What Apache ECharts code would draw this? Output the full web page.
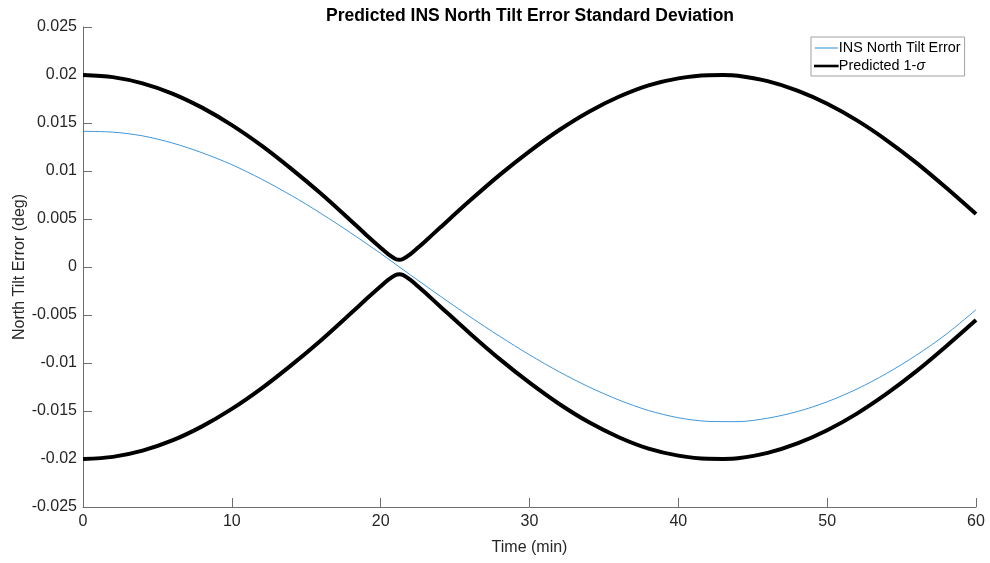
<!DOCTYPE html>
<html>
<head>
<meta charset="utf-8">
<script src="https://cdn.jsdelivr.net/npm/echarts@6/dist/echarts.min.js"></script>
<style>
html,body{margin:0;padding:0;background:#fff;}
#chart{width:990px;height:563px;}
</style>
</head>
<body>
<div id="chart"></div>
<script>
// Time (min) grid for predicted 1-sigma envelope
var sigmaTime = [0,2,4,6,8,10,12,14,16,18,19,20,20.5,21,21.25,21.5,22,22.5,23,24,26,28,30,32,34,36,38,40,42,43,44,46,48,50,52,54,56,58,60];
// Predicted 1-sigma (deg), upper envelope; lower envelope is its negative
var sigmaUpper = [0.02,0.01978,0.01913,0.01807,0.0166,0.01478,0.01264,0.01022,0.00762,0.00482,0.00339,0.002,0.00134,0.00084,0.00075,0.00084,0.00134,0.002,0.00269,0.00411,0.00692,0.0096,0.01205,0.01427,0.01618,0.01773,0.01892,0.01965,0.01998,0.01999,0.01993,0.01936,0.01837,0.017,0.01527,0.0132,0.01085,0.00825,0.00552];
// Time (min) grid for INS north tilt error
var errTime = [0,2,4,6,8,10,12,14,16,18,20,22,24,26,28,30,32,34,36,38,40,42,44,46,48,50,52,54,56,58,60];
// INS North Tilt Error (deg)
var errValues = [0.01413,0.01405,0.01366,0.01292,0.0119,0.01066,0.00915,0.00745,0.00557,0.00354,0.00141,-0.00083,-0.00303,-0.00518,-0.00722,-0.00915,-0.01092,-0.0125,-0.01385,-0.01495,-0.0157,-0.01608,-0.01611,-0.01575,-0.01506,-0.01404,-0.01271,-0.01108,-0.00918,-0.007,-0.00445];
// Axis ticks
var xTicks = {min:0, max:60, step:10};
var yTicks = {min:-0.025, max:0.025, step:0.005};

var seriesNames = ['INS North Tilt Error', 'Predicted 1-\u03c3'];

function pairs(xs, ys){ return xs.map(function(x,i){ return [x, ys[i]]; }); }

var chart = echarts.init(document.getElementById('chart'), null, {renderer:'canvas'});
var fontFam = '"Liberation Sans", Arial, Helvetica, sans-serif';
var txt = '#262626';
var axisCol = '#6e6e6e';

chart.setOption({
  backgroundColor:'#ffffff',
  animation:false,
  title:{
    text:'Predicted INS North Tilt Error Standard Deviation',
    left:525, textAlign:'center', top:2,
    textStyle:{fontFamily:fontFam, fontSize:17.5, fontWeight:'bold', color:'#000'}
  },
  legend:{
    data:[
      {name:seriesNames[0], icon:'rect', itemStyle:{color:'#2b8ad3', borderWidth:0}},
      {name:seriesNames[1], icon:'rect', itemStyle:{color:'#000', borderColor:'#000', borderWidth:1.6}}
    ],
    orient:'vertical',
    left:811, top:37,
    backgroundColor:'#fff',
    borderColor:'#a0a0a0', borderWidth:1, borderRadius:0,
    padding:[4,4,3,3],
    itemGap:4, itemWidth:23, itemHeight:1,
    textStyle:{fontFamily:fontFam, fontSize:14.4, color:'#000', padding:[0,0,0,-4],
      rich:{i:{fontStyle:'italic', fontFamily:fontFam, fontSize:14.4, color:'#000'}}},
    formatter:function(n){ return n===seriesNames[1] ? 'Predicted 1-{i|\u03c3}' : n; }
  },
  grid:{left:83, right:14, top:27, bottom:56, containLabel:false, outerBoundsMode:'none'},
  xAxis:{
    type:'value', min:xTicks.min, max:xTicks.max, interval:xTicks.step,
    name:'Time (min)', nameLocation:'middle', nameGap:33, nameMoveOverlap:false,
    nameTextStyle:{fontFamily:fontFam, fontSize:16, color:txt},
    axisLine:{show:true, onZero:false, lineStyle:{color:axisCol, width:1}},
    axisTick:{show:true, inside:true, length:9, lineStyle:{color:axisCol}},
    axisLabel:{fontFamily:fontFam, fontSize:16, color:txt, margin:7},
    splitLine:{show:false}
  },
  yAxis:{
    type:'value', min:yTicks.min, max:yTicks.max, interval:yTicks.step,
    name:'North Tilt Error (deg)', nameLocation:'middle', nameGap:55, nameRotate:90, nameMoveOverlap:false,
    nameTextStyle:{fontFamily:fontFam, fontSize:16, color:txt},
    axisLine:{show:true, onZero:false, lineStyle:{color:axisCol, width:1}},
    axisTick:{show:true, inside:true, length:9, lineStyle:{color:axisCol}},
    axisLabel:{fontFamily:fontFam, fontSize:16, color:txt, margin:6},
    splitLine:{show:false}
  },
  series:[
    {
      name:seriesNames[0], type:'line', showSymbol:false, symbol:'none', smooth:0.3,
      data:pairs(errTime, errValues),
      lineStyle:{color:'#2b8ad3', width:0.9}, itemStyle:{color:'#2b8ad3'}, z:3
    },
    {
      name:seriesNames[1], type:'line', showSymbol:false, symbol:'none', smooth:0.3,
      data:pairs(sigmaTime, sigmaUpper),
      lineStyle:{color:'#000', width:4}, itemStyle:{color:'#000'}, z:2
    },
    {
      name:'Predicted 1-\u03c3 (lower)', type:'line', showSymbol:false, symbol:'none', smooth:0.3,
      data:pairs(sigmaTime, sigmaUpper.map(function(v){ return -v; })),
      lineStyle:{color:'#000', width:4}, itemStyle:{color:'#000'}, z:2
    }
  ]
});
</script>
</body>
</html>
